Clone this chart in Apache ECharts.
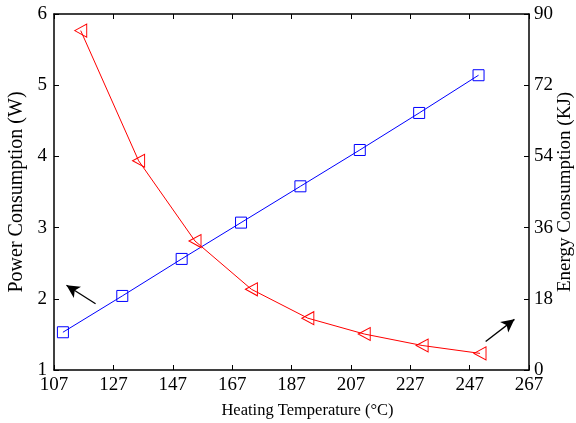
<!DOCTYPE html>
<html>
<head>
<meta charset="utf-8">
<script src="https://cdn.jsdelivr.net/npm/echarts@6/dist/echarts.min.js"></script>
<style>
  html, body { margin: 0; padding: 0; background: #fff; }
  #chart { width: 576px; height: 423px; }
</style>
</head>
<body>
<div id="chart"></div>
<script>
  // power consumption (W), left axis
  var powerTemp = [110, 130, 150, 170, 190, 210, 230, 250]
  var powerVals = [1.53, 2.04, 2.56, 3.07, 3.58, 4.09, 4.61, 5.14]

  // energy consumption (KJ), right axis
  var energyTemp = [116, 135.5, 154.5, 173.5, 192.5, 211.5, 231, 250.5]
  var energyVals = [85.8, 52.9, 32.6, 20.4, 13.1, 9.1, 6.2, 4.2]

  // arrows: [tail, head] in data coords
  var powerArrow = [[121, 1.93], [111.2, 2.19]]
  var energyArrow = [[252.4, 7.2], [262.1, 12.8]]

  var serif = 'Liberation Serif'

  function pairData (arr) {
    var out = []
    for (var i = 0; i < arr[0].length; i++) out.push([arr[0][i], arr[1][i]])
    return out
  }

  function arrowLine (pts) {
    return {
      silent: true,
      animation: false,
      symbol: ['none', 'arrow'],
      symbolSize: [10, 13],
      label: { show: false },
      lineStyle: { color: '#000', width: 1.3, type: 'solid' },
      emphasis: { disabled: true },
      data: [[{ coord: pts[0] }, { coord: pts[1] }]]
    }
  }

  var chart = echarts.init(document.getElementById('chart'))

  var xCommon = {
    type: 'value',
    min: 107,
    max: 267,
    interval: 20,
    splitLine: { show: false },
    axisLine: { lineStyle: { color: '#000', width: 1.5 } },
    axisTick: { inside: true, length: 5, lineStyle: { color: '#000', width: 1 } }
  }

  chart.setOption({
    animation: false,
    backgroundColor: '#fff',
    grid: { left: 54, right: 47, top: 14, bottom: 53, outerBoundsMode: 'none' },
    xAxis: [
      Object.assign({}, xCommon, {
        position: 'bottom',
        name: 'Heating Temperature (°C)',
        nameLocation: 'middle',
        nameGap: 32,
        nameMoveOverlap: false,
        nameTextStyle: { fontFamily: serif, fontSize: 16.5, color: '#000', padding: [0, 0, 0, 32] },
        axisLabel: { fontFamily: serif, fontSize: 19, color: '#000', margin: 6 }
      }),
      Object.assign({}, xCommon, {
        position: 'top',
        axisLabel: { show: false }
      })
    ],
    yAxis: [
      {
        type: 'value',
        position: 'left',
        min: 1,
        max: 6,
        interval: 1,
        name: 'Power Consumption (W)',
        nameLocation: 'middle',
        nameRotate: 90,
        nameGap: 27,
        nameMoveOverlap: false,
        nameTextStyle: { fontFamily: serif, fontSize: 20, color: '#000' },
        splitLine: { show: false },
        axisLine: { show: true, lineStyle: { color: '#000', width: 1.5 } },
        axisTick: { show: true, inside: true, length: 5, lineStyle: { color: '#000', width: 1 } },
        axisLabel: { fontFamily: serif, fontSize: 19, color: '#000', margin: 7 }
      },
      {
        type: 'value',
        position: 'right',
        min: 0,
        max: 90,
        interval: 18,
        name: 'Energy Consumption (KJ)',
        nameLocation: 'middle',
        nameRotate: 90,
        nameGap: 27,
        nameMoveOverlap: false,
        nameTextStyle: { fontFamily: serif, fontSize: 19, color: '#000' },
        splitLine: { show: false },
        axisLine: { show: true, lineStyle: { color: '#000', width: 1.5 } },
        axisTick: { show: true, inside: true, length: 5, lineStyle: { color: '#000', width: 1 } },
        axisLabel: { fontFamily: serif, fontSize: 19, color: '#000', margin: 5 }
      }
    ],
    series: [
      {
        type: 'line',
        xAxisIndex: 0,
        yAxisIndex: 0,
        data: pairData([powerTemp, powerVals]),
        symbol: 'rect',
        symbolSize: 11,
        lineStyle: { color: '#0000ff', width: 1 },
        itemStyle: { color: 'transparent', borderColor: '#0000ff', borderWidth: 1 },
        markLine: arrowLine(powerArrow)
      },
      {
        type: 'line',
        xAxisIndex: 0,
        yAxisIndex: 1,
        data: pairData([energyTemp, energyVals]),
        symbol: 'triangle',
        symbolRotate: 90,
        symbolSize: [13, 12],
        lineStyle: { color: '#ff0000', width: 1 },
        itemStyle: { color: 'transparent', borderColor: '#ff0000', borderWidth: 1 },
        markLine: arrowLine(energyArrow)
      }
    ]
  })
</script>
</body>
</html>
